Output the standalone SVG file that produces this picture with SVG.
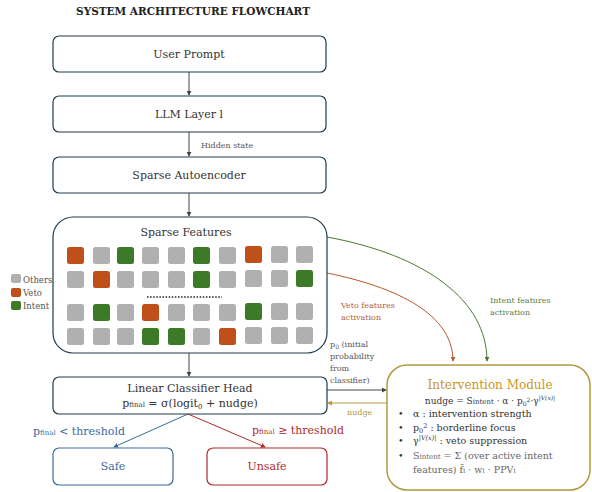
<svg xmlns="http://www.w3.org/2000/svg" width="592" height="492" viewBox="0 0 592 492">
<defs>
<style>
text{font-family:"DejaVu Serif","Liberation Serif",serif;fill:#333}
.node{fill:#fff;stroke:#1f3b4d;stroke-width:1.2}
.t{font-size:11px;text-anchor:middle}
.sm{font-size:8px;fill:#555}
.g{fill:#b0b0b0}.o{fill:#c0501a}.gr{fill:#3c7a28}
.ln{fill:none;stroke:#444;stroke-width:1}
</style>
<marker id="ad" viewBox="0 0 6 6" refX="5" refY="3" markerWidth="5" markerHeight="5" orient="auto"><path d="M0,0L6,3L0,6z" fill="#444"/></marker>
<marker id="ab" viewBox="0 0 6 6" refX="5" refY="3" markerWidth="5" markerHeight="5" orient="auto"><path d="M0,0L6,3L0,6z" fill="#3b6a9a"/></marker>
<marker id="ar" viewBox="0 0 6 6" refX="5" refY="3" markerWidth="5" markerHeight="5" orient="auto"><path d="M0,0L6,3L0,6z" fill="#b02a2a"/></marker>
<marker id="ao" viewBox="0 0 6 6" refX="5" refY="3" markerWidth="5" markerHeight="5" orient="auto"><path d="M0,0L6,3L0,6z" fill="#b8582a"/></marker>
<marker id="ag" viewBox="0 0 6 6" refX="5" refY="3" markerWidth="5" markerHeight="5" orient="auto"><path d="M0,0L6,3L0,6z" fill="#4a7a30"/></marker>
<marker id="ay" viewBox="0 0 6 6" refX="5" refY="3" markerWidth="5" markerHeight="5" orient="auto"><path d="M0,0L6,3L0,6z" fill="#b09a40"/></marker>
</defs>
<rect width="592" height="492" fill="#fff"/>
<text x="193" y="15" font-size="10.5" font-weight="bold" text-anchor="middle" fill="#222" style="fill:#222">SYSTEM ARCHITECTURE FLOWCHART</text>

<g id="connectors">
<line class="ln" x1="189" y1="72" x2="189" y2="95" marker-end="url(#ad)"/>
<line class="ln" x1="189" y1="132" x2="189" y2="156" marker-end="url(#ad)"/>
<text x="201" y="148" class="sm">Hidden state</text>
<line class="ln" x1="189" y1="193" x2="189" y2="216" marker-end="url(#ad)"/>
<line class="ln" x1="189" y1="353" x2="189" y2="376" marker-end="url(#ad)"/>
<path d="M327,237 C425,255 487,300 487,361" fill="none" stroke="#4a7a30" stroke-width="1" marker-end="url(#ag)"/>
<path d="M327,273 C410,290 453,320 453,361" fill="none" stroke="#b8582a" stroke-width="1" marker-end="url(#ao)"/>
<text x="341" y="308" font-size="8" style="fill:#b0603a">Veto features</text>
<text x="341" y="320" font-size="8" style="fill:#b0603a">activation</text>
<text x="490" y="303" font-size="8" style="fill:#5a8040">Intent features</text>
<text x="490" y="315" font-size="8" style="fill:#5a8040">activation</text>
<text x="330" y="347" class="sm">p<tspan font-size="6" dy="1.5">0</tspan><tspan dy="-1.5"> (initial</tspan></text>
<text x="330" y="359" class="sm">probability</text>
<text x="330" y="371" class="sm">from</text>
<text x="330" y="383" class="sm">classifier)</text>
<line class="ln" x1="327" y1="390" x2="386" y2="390" marker-end="url(#ad)"/>
<line x1="387" y1="403" x2="328" y2="403" stroke="#b09a40" stroke-width="1" marker-end="url(#ay)"/>
<text x="347" y="415" font-size="8" style="fill:#b09a40">nudge</text>
<line x1="188" y1="414" x2="114" y2="447" stroke="#3b6a9a" stroke-width="1" marker-end="url(#ab)"/>
<line x1="188" y1="414" x2="265" y2="447" stroke="#b02a2a" stroke-width="1" marker-end="url(#ar)"/>
<text x="33" y="435" font-size="11" style="fill:#3b6a9a">p<tspan font-size="7">final</tspan> &lt; threshold</text>
<text x="252" y="434" font-size="11" style="fill:#b02a2a">p<tspan font-size="7">final</tspan> ≥ threshold</text>
</g>

<g id="user-prompt">
<rect class="node" x="53" y="36" width="273" height="36" rx="6"/>
<text class="t" x="189" y="58">User Prompt</text>
</g>
<g id="llm-layer">
<rect class="node" x="53" y="96" width="273" height="36" rx="6"/>
<text class="t" x="189" y="118">LLM Layer l</text>
</g>
<g id="sparse-autoencoder">
<rect class="node" x="53" y="157" width="273" height="36" rx="6"/>
<text class="t" x="189" y="179">Sparse Autoencoder</text>
</g>

<g id="sparse-features">
<rect class="node" x="53" y="217" width="274" height="136" rx="20"/>
<text x="186" y="236" font-size="11" text-anchor="middle">Sparse Features</text>
<g>
<rect class="o" x="67" y="247" width="17" height="17" rx="2.5"/>
<rect class="g" x="93" y="247" width="17" height="17" rx="2.5"/>
<rect class="gr" x="117" y="247" width="17" height="17" rx="2.5"/>
<rect class="g" x="142" y="247" width="17" height="17" rx="2.5"/>
<rect class="g" x="168" y="247" width="17" height="17" rx="2.5"/>
<rect class="gr" x="193" y="247" width="17" height="17" rx="2.5"/>
<rect class="g" x="219" y="247" width="17" height="17" rx="2.5"/>
<rect class="o" x="245" y="246" width="17" height="17" rx="2.5"/>
<rect class="g" x="271" y="246" width="17" height="17" rx="2.5"/>
<rect class="g" x="296" y="246" width="17" height="17" rx="2.5"/>

<rect class="g" x="67" y="271" width="17" height="17" rx="2.5"/>
<rect class="o" x="93" y="271" width="17" height="17" rx="2.5"/>
<rect class="g" x="117" y="271" width="17" height="17" rx="2.5"/>
<rect class="g" x="142" y="271" width="17" height="17" rx="2.5"/>
<rect class="g" x="168" y="271" width="17" height="17" rx="2.5"/>
<rect class="gr" x="193" y="271" width="17" height="17" rx="2.5"/>
<rect class="g" x="219" y="271" width="17" height="17" rx="2.5"/>
<rect class="g" x="245" y="270" width="17" height="17" rx="2.5"/>
<rect class="g" x="271" y="270" width="17" height="17" rx="2.5"/>
<rect class="gr" x="296" y="270" width="17" height="17" rx="2.5"/>

<rect class="g" x="67" y="304" width="17" height="17" rx="2.5"/>
<rect class="gr" x="93" y="304" width="17" height="17" rx="2.5"/>
<rect class="g" x="117" y="304" width="17" height="17" rx="2.5"/>
<rect class="o" x="142" y="304" width="17" height="17" rx="2.5"/>
<rect class="g" x="168" y="304" width="17" height="17" rx="2.5"/>
<rect class="g" x="193" y="304" width="17" height="17" rx="2.5"/>
<rect class="g" x="219" y="304" width="17" height="17" rx="2.5"/>
<rect class="gr" x="245" y="303" width="17" height="17" rx="2.5"/>
<rect class="g" x="271" y="303" width="17" height="17" rx="2.5"/>
<rect class="g" x="296" y="303" width="17" height="17" rx="2.5"/>

<rect class="g" x="67" y="328" width="17" height="17" rx="2.5"/>
<rect class="g" x="93" y="328" width="17" height="17" rx="2.5"/>
<rect class="g" x="117" y="328" width="17" height="17" rx="2.5"/>
<rect class="gr" x="142" y="328" width="17" height="17" rx="2.5"/>
<rect class="gr" x="168" y="328" width="17" height="17" rx="2.5"/>
<rect class="g" x="193" y="328" width="17" height="17" rx="2.5"/>
<rect class="o" x="219" y="328" width="17" height="17" rx="2.5"/>
<rect class="g" x="245" y="327" width="17" height="17" rx="2.5"/>
<rect class="g" x="271" y="327" width="17" height="17" rx="2.5"/>
<rect class="g" x="296" y="327" width="17" height="17" rx="2.5"/>
</g>
<line x1="147" y1="297" x2="222" y2="297" stroke="#222" stroke-width="1.5" stroke-dasharray="1.5,1.6"/>
</g>

<g id="legend">
<rect class="g" x="11" y="274" width="10" height="9" rx="2"/>
<text x="23" y="283" font-size="8.5" style="fill:#555">Others</text>
<rect class="o" x="11" y="288" width="10" height="9" rx="2"/>
<text x="23" y="296" font-size="8.5" style="fill:#555">Veto</text>
<rect class="gr" x="11" y="301" width="10" height="9" rx="2"/>
<text x="23" y="309" font-size="8.5" style="fill:#555">Intent</text>
</g>

<g id="linear-classifier-head">
<rect class="node" x="53" y="377" width="274" height="37" rx="6"/>
<text class="t" x="190" y="392">Linear Classifier Head</text>
<text class="t" x="190" y="407">p<tspan font-size="7">final</tspan> = σ(logit<tspan font-size="7" dy="1.5">0</tspan><tspan dy="-1.5"> + nudge)</tspan></text>
</g>

<g id="safe">
<rect x="53" y="448" width="120" height="37" rx="6" fill="#fff" stroke="#3b6a9a" stroke-width="1.2"/>
<text class="t" x="113" y="470" style="fill:#3b6a9a">Safe</text>
</g>
<g id="unsafe">
<rect x="207" y="448" width="120" height="37" rx="6" fill="#fff" stroke="#b02a2a" stroke-width="1.2"/>
<text class="t" x="267" y="470" style="fill:#b02a2a">Unsafe</text>
</g>

<g id="intervention-module">
<rect x="387" y="365" width="203" height="125" rx="20" fill="#fff" stroke="#b09a40" stroke-width="1.5"/>
<text x="490" y="389" font-size="12" text-anchor="middle" style="fill:#c8961e">Intervention Module</text>
<text x="490" y="404" font-size="9" text-anchor="middle">nudge = S<tspan font-size="7">intent</tspan> · α · p<tspan font-size="6" dy="1.5">0</tspan><tspan font-size="6" dy="-4">2</tspan><tspan dy="2.5">·γ</tspan><tspan font-size="6" dy="-4" font-style="italic">|V(x)|</tspan></text>
<g font-size="9.5">
<text x="398" y="417" font-size="9.5">•</text>
<text x="413" y="417" font-size="9.5">α : intervention strength</text>
<text x="398" y="431" font-size="9.5">•</text>
<text x="413" y="431" font-size="9.5">p<tspan font-size="6.5" dy="1.5">0</tspan><tspan font-size="6.5" dy="-5">2</tspan><tspan dy="3.5"> : borderline focus</tspan></text>
<text x="398" y="444" font-size="9.5">•</text>
<text x="413" y="444" font-size="9.5">γ<tspan font-size="6.5" dy="-4" font-style="italic">|V(x)|</tspan><tspan dy="4"> : veto suppression</tspan></text>
<text x="398" y="459" font-size="9.5">•</text>
<text x="413" y="459" font-size="9.5" style="fill:#666">S<tspan font-size="7">intent</tspan> = Σ (over active intent</text>
<text x="413" y="473" font-size="9.5" style="fill:#666">features) f&#x0304;<tspan font-size="7">i</tspan> · w<tspan font-size="7">i</tspan> · PPV<tspan font-size="7">i</tspan></text>
</g>
</g>
</svg>
